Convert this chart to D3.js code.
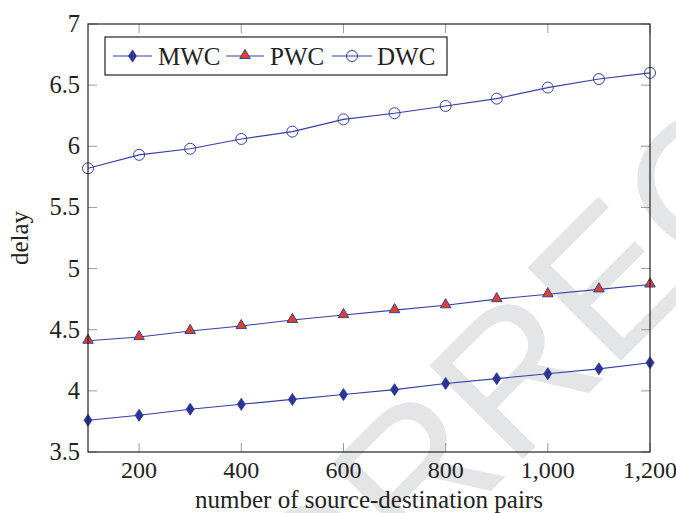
<!doctype html>
<html>
  <head>
    <meta charset="utf-8">
    <title>Delay vs pairs</title>
    <script src="https://cdn.jsdelivr.net/npm/d3@7"></script>
    <style>
      body { margin: 0; background: #fff; }
      text { font-family: "Liberation Serif", "DejaVu Serif", serif; fill: #222; }
    </style>
  </head>
  <body>
    <script>
      // data
      const pairs = [100, 200, 300, 400, 500, 600, 700, 800, 900, 1000, 1100, 1200];
      const mwc = [3.76, 3.80, 3.85, 3.89, 3.93, 3.97, 4.01, 4.06, 4.10, 4.14, 4.18, 4.23];
      const pwc = [4.41, 4.44, 4.49, 4.53, 4.58, 4.62, 4.66, 4.70, 4.75, 4.79, 4.83, 4.87];
      const dwc = [5.82, 5.93, 5.98, 6.06, 6.12, 6.22, 6.27, 6.33, 6.39, 6.48, 6.55, 6.60];
      const seriesNames = ['MWC', 'PWC', 'DWC'];
      const xTicks = [200, 400, 600, 800, 1000, 1200];
      const yTicks = [3.5, 4, 4.5, 5, 5.5, 6, 6.5, 7];

      const width = 676, height = 513;
      const margin = {top: 24, right: 26, bottom: 61, left: 88};
      const innerW = width - margin.left - margin.right;
      const innerH = height - margin.top - margin.bottom;

      const lineColor = '#3540a0';
      const markColor = '#2a3596';
      const redFill = '#e8401f';

      const svg = d3.select('body').append('svg')
          .attr('width', width)
          .attr('height', height);

      // watermark
      svg.append('text')
          .attr('transform', 'translate(14, 968) rotate(-45)')
          .style('font-family', '"Liberation Sans", Arial, sans-serif')
          .style('font-size', '192px')
          .style('fill', '#e4e5e7')
          .text('UNCORRECTED PROOF');

      const g = svg.append('g')
          .attr('transform', `translate(${margin.left}, ${margin.top})`);

      const x = d3.scaleLinear().domain([100, 1200]).range([0, innerW]);
      const y = d3.scaleLinear().domain([3.5, 7]).range([innerH, 0]);

      // ticks (inside, on all four sides)
      const tickLen = 9;
      const tickG = g.append('g').attr('stroke', '#9a9a9a').attr('stroke-width', 1);
      xTicks.forEach(t => {
        tickG.append('line').attr('x1', x(t)).attr('x2', x(t)).attr('y1', innerH).attr('y2', innerH - tickLen);
        tickG.append('line').attr('x1', x(t)).attr('x2', x(t)).attr('y1', 0).attr('y2', tickLen);
      });
      yTicks.forEach(t => {
        tickG.append('line').attr('x1', 0).attr('x2', tickLen).attr('y1', y(t)).attr('y2', y(t));
        tickG.append('line').attr('x1', innerW).attr('x2', innerW - tickLen).attr('y1', y(t)).attr('y2', y(t));
      });

      // tick labels
      g.append('g').selectAll('text')
        .data(xTicks)
        .enter().append('text')
          .attr('x', d => x(d))
          .attr('y', innerH + 26)
          .attr('text-anchor', 'middle')
          .style('font-size', '24px')
          .text(d => d3.format(',')(d));
      g.append('g').selectAll('text')
        .data(yTicks)
        .enter().append('text')
          .attr('x', -8)
          .attr('y', d => y(d) + 8)
          .attr('text-anchor', 'end')
          .style('font-size', '24.5px')
          .text(d => d3.format('')(d));

      // axis labels
      svg.append('text')
          .attr('x', margin.left + innerW / 2)
          .attr('y', 508)
          .attr('text-anchor', 'middle')
          .style('font-size', '25px')
          .text('number of source-destination pairs');
      svg.append('text')
          .attr('transform', `translate(28, ${margin.top + innerH / 2}) rotate(-90)`)
          .attr('text-anchor', 'middle')
          .style('font-size', '25px')
          .text('delay');

      // markers
      const diamond = 'M0,-6L4,0L0,6L-4,0Z';
      const triangle = d3.symbol().type(d3.symbolTriangle).size(48)();

      function drawMarker(sel, kind) {
        if (kind === 'MWC') {
          sel.append('path').attr('d', diamond).attr('fill', markColor).attr('stroke', markColor).attr('stroke-width', 0.8);
        } else if (kind === 'PWC') {
          sel.append('path').attr('d', triangle).attr('transform', 'translate(0,-0.5)')
            .attr('fill', redFill).attr('stroke', lineColor).attr('stroke-width', 1);
        } else {
          sel.append('circle').attr('r', 5.5).attr('fill', 'none').attr('stroke', lineColor).attr('stroke-width', 1);
        }
      }

      const line = d3.line().x((d, i) => x(pairs[i])).y(d => y(d));
      const allSeries = [mwc, pwc, dwc];
      allSeries.forEach((vals, k) => {
        g.append('path')
            .attr('d', line(vals))
            .attr('fill', 'none')
            .attr('stroke', lineColor)
            .attr('stroke-width', 1.1);
        g.append('g').selectAll('g')
          .data(vals)
          .enter().append('g')
            .attr('transform', (d, i) => `translate(${x(pairs[i])}, ${y(d)})`)
            .each(function() { drawMarker(d3.select(this), seriesNames[k]); });
      });

      // frame
      g.append('rect')
          .attr('width', innerW)
          .attr('height', innerH)
          .attr('fill', 'none')
          .attr('stroke', '#222')
          .attr('stroke-width', 1.2);

      // legend
      const legend = svg.append('g').attr('transform', 'translate(105, 37)');
      legend.append('rect')
          .attr('width', 342)
          .attr('height', 38)
          .attr('fill', '#fff')
          .attr('stroke', '#222')
          .attr('stroke-width', 1.2);
      const legendX = [[8, 47, 53], [121, 159, 165], [227, 267, 272]];
      seriesNames.forEach((name, k) => {
        const [x0, x1, tx] = legendX[k];
        legend.append('line')
            .attr('x1', x0).attr('x2', x1)
            .attr('y1', 19).attr('y2', 19)
            .attr('stroke', lineColor).attr('stroke-width', 1.1);
        const m = legend.append('g').attr('transform', `translate(${(x0 + x1) / 2}, 19)`);
        drawMarker(m, name);
        legend.append('text')
            .attr('x', tx)
            .attr('y', 28)
            .style('font-size', '25px')
            .text(name);
      });
    </script>
  </body>
</html>
